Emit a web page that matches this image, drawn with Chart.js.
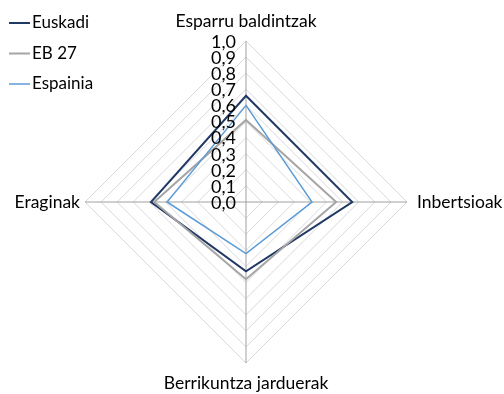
<!DOCTYPE html>
<html>
<head>
<meta charset="utf-8">
<script src="https://cdn.jsdelivr.net/npm/chart.js@4.4.1/dist/chart.umd.min.js"></script>
<style>
  html, body { margin: 0; padding: 0; background: #ffffff; }
</style>
</head>
<body>
<canvas id="radar" width="504" height="394"></canvas>
<script>
const categories = ['Esparru baldintzak', 'Inbertsioak', 'Berrikuntza jarduerak', 'Eraginak'];
const euskadi = [0.66, 0.66, 0.43, 0.59];
const eb27 = [0.51, 0.56, 0.48, 0.57];
const espainia = [0.60, 0.41, 0.32, 0.49];
const tick_labels = ['0,0', '0,1', '0,2', '0,3', '0,4', '0,5', '0,6', '0,7', '0,8', '0,9', '1,0'];

const font_family = 'Lato, "Open Sans", sans-serif';
const text_color = '#000000';

// labels round the scale, the value ticks and the legend are drawn by hand
const labels_plugin = {
    id: 'labels_plugin',
    afterDatasetsDraw(chart) {
        const ctx = chart.ctx;
        const scale = chart.scales.r;
        const r = scale.drawingArea;

        ctx.save();
        ctx.fillStyle = text_color;

        // value ticks, right aligned next to the vertical axis
        ctx.font = '18px ' + font_family;
        ctx.textAlign = 'right';
        ctx.textBaseline = 'middle';
        scale.ticks.forEach((tick) => {
            const dist = scale.getDistanceFromCenterForValue(tick.value);
            ctx.fillText(tick.label, scale.xCenter - 10, scale.yCenter - dist + 1);
        });

        // category names
        ctx.font = '17.5px ' + font_family;
        for (let i = 0; i < categories.length; i++) {
            const angle = scale.getIndexAngle(i);
            const cos = Math.cos(angle - Math.PI / 2);
            let pos;
            if (Math.abs(cos) < 0.01) {
                pos = scale.getPointPosition(i, r + 20);
                ctx.textAlign = 'center';
            } else if (cos > 0) {
                pos = scale.getPointPosition(i, r + 10);
                ctx.textAlign = 'left';
            } else {
                pos = scale.getPointPosition(i, r + 5);
                ctx.textAlign = 'right';
            }
            ctx.textBaseline = 'middle';
            ctx.fillText(scale._pointLabels[i], pos.x, pos.y);
        }

        // legend
        ctx.font = '17px ' + font_family;
        ctx.textAlign = 'left';
        ctx.textBaseline = 'middle';
        chart.data.datasets.forEach((ds, i) => {
            const y = 23 + i * 30.5;
            ctx.strokeStyle = ds.borderColor;
            ctx.lineWidth = ds.borderWidth;
            ctx.beginPath();
            ctx.moveTo(9, y);
            ctx.lineTo(30, y);
            ctx.stroke();
            ctx.fillText(ds.label, 32, y);
        });

        ctx.restore();
    }
};

new Chart(document.getElementById('radar'), {
    type: 'radar',
    data: {
        labels: categories,
        datasets: [{
            label: 'Euskadi',
            data: euskadi,
            borderColor: '#203864',
            borderWidth: 2,
            fill: false,
            pointRadius: 0,
            order: 3
        }, {
            label: 'EB 27',
            data: eb27,
            borderColor: '#a5a5a5',
            borderWidth: 2,
            fill: false,
            pointRadius: 0,
            order: 2
        }, {
            label: 'Espainia',
            data: espainia,
            borderColor: '#5b9bd5',
            borderWidth: 1.5,
            fill: false,
            pointRadius: 0,
            order: 1
        }]
    },
    options: {
        responsive: false,
        animation: false,
        layout: {
            padding: { top: 41, bottom: 31, left: 0, right: 12 }
        },
        elements: {
            line: { tension: 0 }
        },
        plugins: {
            legend: { display: false },
            tooltip: { enabled: false }
        },
        scales: {
            r: {
                min: 0,
                max: 1,
                ticks: {
                    stepSize: 0.1,
                    display: false,
                    callback: (value, index) => tick_labels[index]
                },
                grid: {
                    circular: false,
                    color: '#d9d9d9',
                    lineWidth: 1
                },
                angleLines: {
                    color: '#a0a0a0',
                    lineWidth: 1
                },
                pointLabels: { display: false }
            }
        }
    },
    plugins: [labels_plugin]
});
</script>
</body>
</html>
